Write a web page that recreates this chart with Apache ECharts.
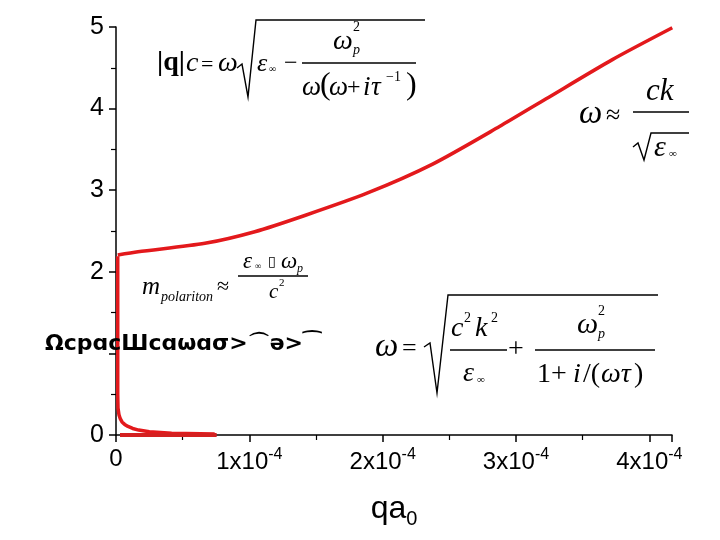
<!DOCTYPE html>
<html>
<head>
<meta charset="utf-8">
<script src="https://cdn.jsdelivr.net/npm/echarts@6/dist/echarts.min.js"></script>
<style>
  html, body { margin: 0; padding: 0; background: #fff; }
  #chart { width: 720px; height: 540px; }
</style>
</head>
<body>
<div id="chart"></div>
<script>
// qa0 in units of 1e-4, energy in eV
const upperX = [0.013, 0.165, 0.667, 1.041, 1.416, 1.878, 2.375, 2.876, 3.226, 3.723, 4.172];
const upperY = [2.206, 2.246, 2.349, 2.491, 2.69, 2.96, 3.32, 3.78, 4.12, 4.60, 4.99];

const lowerX = [0.013, 0.013, 0.015, 0.022, 0.032, 0.045, 0.065, 0.09, 0.125, 0.17, 0.25, 0.417, 0.74];
const lowerY = [2.19, 0.5, 0.33, 0.25, 0.2, 0.16, 0.13, 0.105, 0.08, 0.06, 0.04, 0.022, 0.012];

const zeroX = [0.03, 0.755];
const zeroY = [0, 0];

const xTicks = ['0', '1x10{sup|-4}', '2x10{sup|-4}', '3x10{sup|-4}', '4x10{sup|-4}'];
const yTicks = ['0', '', '2', '3', '4', '5'];

const red = '#e3191c';
const serif = '"Liberation Serif", "DejaVu Serif", serif';
const sans = '"Liberation Sans", Arial, sans-serif';

const pairs = (xs, ys) => xs.map((x, i) => [x, ys[i]]);

const chart = echarts.init(document.getElementById('chart'));

function txt(x, y, text, size, opts) {
    return {
        type: 'text', z: 10,
        style: Object.assign({
            x: x, y: y, text: text,
            font: 'italic ' + size + 'px ' + serif,
            fill: '#000', textVerticalAlign: 'middle'
        }, opts || {})
    };
}
function up(x, y, text, size) {
    return txt(x, y, text, size, { font: size + 'px ' + serif });
}
function ln(x1, y1, x2, y2) {
    return { type: 'line', z: 10, shape: { x1, y1, x2, y2 }, style: { stroke: '#000', lineWidth: 1.3 } };
}
function poly(points) {
    return { type: 'polyline', z: 10, shape: { points }, style: { stroke: '#000', lineWidth: 1.4, fill: null } };
}

const formulas = [
    // |q|c = w sqrt(eps - wp^2 / (w(w + i tau^-1)))
    { type: 'text', z: 10, style: { x: 157, y: 63, text: '|q|', font: 'bold 28px ' + serif, fill: '#000', textVerticalAlign: 'middle' } },
    txt(186, 64, 'c', 28),
    up(201, 65, '=', 22),
    txt(218, 64, 'ω', 28),
    poly([[237, 68], [242, 64], [248, 97], [256, 20], [425, 20]]),
    txt(257, 64, 'ε', 26),
    up(269, 69, '∞', 10),
    up(284, 64, '−', 24),
    ln(302, 63, 416, 63),
    txt(333, 42, 'ω', 28),
    up(353, 27, '2', 14),
    txt(353, 50, 'p', 14),
    txt(302, 88, 'ω', 27),
    up(320, 86, '(', 32),
    txt(329, 88, 'ω', 27),
    up(347, 88, '+', 24),
    txt(363, 88, 'i', 27),
    txt(371, 88, 'τ', 27),
    up(386, 77, '−1', 14),
    up(406, 86, ')', 32),

    // w ~ ck / sqrt(eps)
    txt(579, 114, 'ω', 33),
    up(606, 116, '≈', 26),
    ln(633, 112, 689, 112),
    txt(646, 92, 'ck', 31),
    poly([[633, 147], [638, 143], [644, 160], [651, 133], [689, 133]]),
    txt(654, 148, 'ε', 30),
    up(669, 154, '∞', 11),

    // m_polariton ~ eps wp / c^2
    txt(142, 287, 'm', 25),
    txt(161, 297, 'polariton', 14),
    up(217, 287, '≈', 22),
    ln(238, 276, 308, 276),
    txt(243, 262, 'ε', 23),
    up(255, 267, '∞', 9),
    up(268, 262, '\u25AF', 14),
    txt(281, 262, 'ω', 23),
    txt(297, 269, 'p', 12),
    txt(269, 292, 'c', 21),
    up(279, 283, '2', 11),

    // w = sqrt(c^2 k^2 / eps + wp^2 / (1 + i/(w tau)))
    txt(375, 347, 'ω', 33),
    up(402, 349, '=', 26),
    poly([[424, 347], [430, 343], [437, 393], [448, 295], [658, 295]]),
    ln(450, 350, 507, 350),
    txt(451, 329, 'c', 28),
    up(464, 318, '2', 14),
    txt(475, 329, 'k', 28),
    up(491, 318, '2', 14),
    txt(463, 374, 'ε', 28),
    up(477, 380, '∞', 11),
    up(508, 350, '+', 28),
    ln(535, 350, 655, 350),
    txt(577, 325, 'ω', 30),
    up(598, 311, '2', 14),
    txt(598, 334, 'p', 14),
    up(537, 375, '1+', 28),
    txt(573, 375, 'i', 28),
    up(583, 375, '/(', 28),
    txt(601, 375, 'ωτ', 28),
    up(634, 375, ')', 28),

    // garbled y axis caption
    {
        type: 'text', z: 12,
        style: {
            x: 45, y: 344, text: 'ΩcpɑcШcɑωɑσ>⌒ə>⁀',
            font: 'bold 22px "DejaVu Sans", sans-serif', fill: '#000', textVerticalAlign: 'middle'
        }
    }
];

const lineStyle = { color: red, width: 3.5 };

chart.setOption({
    animation: false,
    backgroundColor: '#fff',
    grid: { left: 116, right: 48, top: 27, bottom: 105 },
    xAxis: {
        type: 'value', min: 0, max: 4.17, interval: 1,
        name: 'qa{sub|0}', nameLocation: 'middle', nameGap: 54,
        nameTextStyle: {
            fontFamily: sans, fontSize: 32, color: '#000',
            rich: { sub: { fontFamily: sans, fontSize: 20, padding: [20, 0, 0, 0], color: '#000' } }
        },
        axisLine: { show: true, lineStyle: { color: '#000', width: 1.5 } },
        axisTick: { show: true, length: 7, lineStyle: { color: '#000', width: 1.5 } },
        minorTick: { show: true, splitNumber: 2, length: 5, lineStyle: { color: '#000', width: 1.2 } },
        splitLine: { show: false },
        axisLabel: {
            fontFamily: sans, fontSize: 24, color: '#000', margin: 12, showMaxLabel: false,
            formatter: v => xTicks[Math.round(v)] || '',
            rich: { sup: { fontFamily: sans, fontSize: 16, color: '#000', padding: [0, 0, 14, 0] } }
        }
    },
    yAxis: {
        type: 'value', min: 0, max: 5, interval: 1,
        axisLine: { show: true, lineStyle: { color: '#000', width: 1.5 } },
        axisTick: { show: true, length: 7, lineStyle: { color: '#000', width: 1.5 } },
        minorTick: { show: true, splitNumber: 2, length: 5, lineStyle: { color: '#000', width: 1.2 } },
        splitLine: { show: false },
        axisLabel: {
            fontFamily: sans, fontSize: 25, color: '#000', margin: 12,
            formatter: v => yTicks[Math.round(v)]
        }
    },
    series: [
        {
            type: 'line', data: pairs(upperX, upperY), showSymbol: false,
            smooth: 0.25, lineStyle: lineStyle, z: 5
        },
        {
            type: 'line', data: pairs(lowerX, lowerY), showSymbol: false,
            smooth: false, lineStyle: lineStyle, z: 5
        },
        {
            type: 'line', data: pairs(zeroX, zeroY), showSymbol: false,
            lineStyle: { color: '#d42020', width: 4 }, z: 6
        }
    ],
    graphic: formulas
});
</script>
</body>
</html>
